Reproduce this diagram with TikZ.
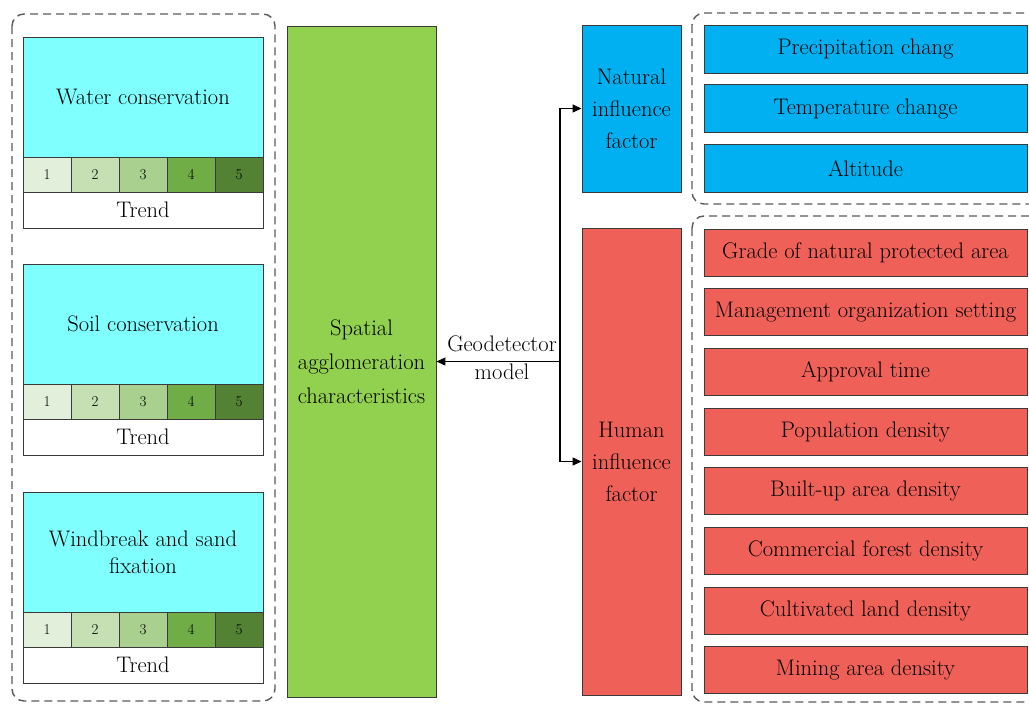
\documentclass[tikz,border=0pt]{standalone}
\usetikzlibrary{arrows.meta}
\definecolor{cyanbox}{HTML}{80FFFF}
\definecolor{greenbox}{HTML}{92D050}
\definecolor{bluebox}{HTML}{00B0F0}
\definecolor{redbox}{HTML}{EF6158}
\definecolor{edge}{HTML}{3A3A3A}
\definecolor{dashc}{HTML}{5A5A5A}
\definecolor{gA}{HTML}{E2EFDA}
\definecolor{gB}{HTML}{C6E0B4}
\definecolor{gC}{HTML}{A9D08E}
\definecolor{gD}{HTML}{70AD47}
\definecolor{gE}{HTML}{548235}
\tikzset{
  box/.style={draw=edge, line width=0.9pt, inner sep=0pt, align=center, font=\fontsize{22.5}{32}\selectfont},
  cell/.style={draw=edge, line width=0.9pt, inner sep=0pt, minimum width=48pt, minimum height=35pt, font=\fontsize{15}{17}\selectfont},
  grp/.style={draw=dashc, line width=1.4pt, dash pattern=on 8pt off 5pt, rounded corners=12pt},
  arr/.style={draw=black, line width=1.2pt, -{Triangle[length=9pt,width=8pt]}},
}
\begin{document}
\begin{tikzpicture}[x=1pt,y=-1pt]
\useasboundingbox (0,0) rectangle (1029,704);
% dashed groups
\draw[grp] (12,14) rectangle (275,701);
\draw[grp] (692,13) rectangle (1045,204);
\draw[grp] (692,216) rectangle (1045,702);
% left blocks
\foreach \nm/\dy/\txt in {wc/0/{Water conservation}, sc/227/{Soil conservation}, wf/455/{Windbreak and sand\\fixation}} {
  \node[box, fill=cyanbox, minimum width=240pt, minimum height=120pt, font=\fontsize{22.5}{27}\selectfont] (\nm) at (143,97+\dy) {\txt};
  \foreach \i/\c in {1/gA,2/gB,3/gC,4/gD,5/gE} {
    \node[cell, fill=\c] (\nm\i) at (47+48*\i-48,174.5+\dy) {\i};
  }
  \node[box, fill=white, minimum width=240pt, minimum height=36pt] (\nm t) at (143,210+\dy) {Trend};
}
% central green
\node[box, fill=greenbox, minimum width=149pt, minimum height=671pt, font=\fontsize{22.5}{34}\selectfont] (spat) at (361.5,361.5) {Spatial\\agglomeration\\characteristics};
% factor boxes
\node[box, fill=bluebox, minimum width=99pt, minimum height=167pt] (nat) at (631.5,108.5) {Natural\\influence\\factor};
\node[box, fill=redbox, minimum width=99pt, minimum height=467pt] (hum) at (631.5,461.5) {Human\\influence\\factor};
% natural items
\foreach \i/\t in {0/{Precipitation chang},1/{Temperature change},2/{Altitude}} {
  \node[box, fill=bluebox, minimum width=323pt, minimum height=48pt] (n\i) at (865.5,49+59.7*\i) {\t};
}
% human items
\foreach \i/\t in {0/{Grade of natural protected area},1/{Management organization setting},2/{Approval time},3/{Population density},4/{Built-up area density},5/{Commercial forest density},6/{Cultivated land density},7/{Mining area density}} {
  \node[box, fill=redbox, minimum width=323pt, minimum height=47pt] (h\i) at (865.5,252.5+59.7*\i) {\t};
}
% connectors
\coordinate (j) at (560,361.5);
\draw[arr] (j) -- (spat.east);
\draw[arr] (j) |- (nat.west);
\draw[arr] (j) |- (hum.west);
\node[align=center, font=\fontsize{22.5}{28}\selectfont, inner sep=0pt] (geo) at (502,357.5) {Geodetector\\model};
\end{tikzpicture}
\end{document}
